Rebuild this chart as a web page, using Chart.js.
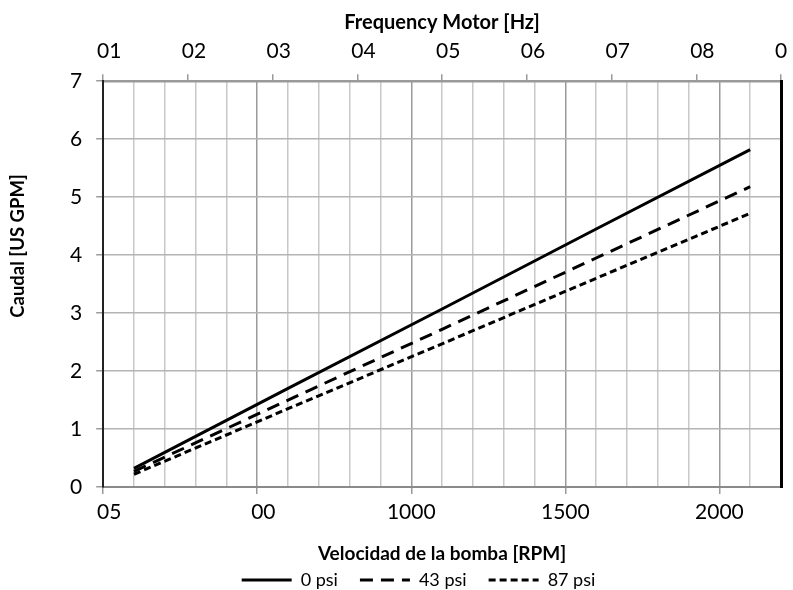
<!DOCTYPE html>
<html>
<head>
<meta charset="utf-8">
<script src="https://cdn.jsdelivr.net/npm/chart.js@4.4.1/dist/chart.umd.min.js"></script>
<style>
  html, body { margin: 0; padding: 0; background: #fff; }
  #wrap { width: 793px; height: 590px; }
</style>
</head>
<body>
<div id="wrap"><canvas id="myChart" width="793" height="590"></canvas></div>
<script>
// Pump speed [RPM] where the curves were read
const rpm = [100, 600, 1100, 1600, 2100];

// Flow [US GPM] for each outlet pressure
const flow0psi = [0.32, 1.70, 3.07, 4.45, 5.82];
const flow43psi = [0.27, 1.50, 2.72, 3.95, 5.18];
const flow87psi = [0.22, 1.35, 2.47, 3.60, 4.72];

// Tick labels as printed on the original
const rpmTickValues = [0, 500, 1000, 1500, 2000];
const rpmTickLabels = ['05', '00', '1000', '1500', '2000'];
const hzTickLabels = ['01', '02', '03', '04', '05', '06', '07', '08', '0'];

const FONT = 'Lato, "Open Sans", sans-serif';

function toPoints(ys) {
    return rpm.map((x, i) => ({ x: x, y: ys[i] }));
}

// y axis title sits a bit above the centre of the plot in the original
const yTitlePlugin = {
    id: 'yTitle',
    afterDraw(chart) {
        const ctx = chart.ctx;
        ctx.save();
        ctx.translate(18, 246);
        ctx.rotate(-Math.PI / 2);
        ctx.font = 'bold 18.5px ' + FONT;
        ctx.fillStyle = '#000';
        ctx.textAlign = 'center';
        ctx.textBaseline = 'middle';
        ctx.fillText('Caudal [US GPM]', 0, 0);
        ctx.restore();
    }
};

// let the last top label hang over the right edge like the original
function noRightPad(scale) {
    scale.paddingRight = 0;
}

const ctx = document.getElementById('myChart').getContext('2d');
new Chart(ctx, {
    type: 'line',
    data: {
        datasets: [
            { label: '0 psi', data: toPoints(flow0psi), borderColor: '#000', borderWidth: 3, pointRadius: 0, borderDash: [] },
            { label: '43 psi', data: toPoints(flow43psi), borderColor: '#000', borderWidth: 3, pointRadius: 0, borderDash: [13, 8] },
            { label: '87 psi', data: toPoints(flow87psi), borderColor: '#000', borderWidth: 3, pointRadius: 0, borderDash: [7, 4] }
        ]
    },
    options: {
        responsive: false,
        animation: false,
        layout: { padding: { left: 56, right: 12, top: 4, bottom: -9 } },
        scales: {
            x: {
                type: 'linear',
                position: 'bottom',
                min: 0,
                max: 2200,
                afterFit: noRightPad,
                ticks: {
                    stepSize: 100,
                    autoSkip: false,
                    maxRotation: 0,
                    padding: 6,
                    color: '#000',
                    font: { family: FONT, size: 21 },
                    callback: function (value) {
                        const i = rpmTickValues.indexOf(value);
                        if (i < 0) return '';
                        const s = rpmTickLabels[i];
                        return s.length === 2 ? '\u2007' + s : s;
                    }
                },
                grid: {
                    color: c => (c.tick && c.tick.value % 500 === 0) ? '#9a9a9a' : '#c8c8c8',
                    lineWidth: 1.5,
                    tickLength: 7,
                    tickColor: c => (c.tick && c.tick.value % 500 === 0) ? '#9a9a9a' : 'rgba(0,0,0,0)'
                },
                border: { color: '#8a8a8a', width: 2 },
                title: {
                    display: true,
                    text: 'Velocidad de la bomba [RPM]',
                    color: '#000',
                    font: { family: FONT, size: 19, weight: 'bold' },
                    padding: { top: 11, bottom: -16 }
                }
            },
            x2: {
                type: 'linear',
                position: 'top',
                min: 10,
                max: 90,
                afterFit: noRightPad,
                ticks: {
                    stepSize: 10,
                    maxRotation: 0,
                    padding: 10,
                    color: '#000',
                    font: { family: FONT, size: 21 },
                    callback: function (value) {
                        const s = hzTickLabels[Math.round((value - 10) / 10)];
                        return s.length === 2 ? '\u2007' + s : s;
                    }
                },
                grid: { drawOnChartArea: false, tickLength: 7, tickColor: '#9a9a9a', lineWidth: 1.5 },
                border: { color: '#9a9a9a', width: 2.5 },
                title: {
                    display: true,
                    text: 'Frequency Motor [Hz]',
                    color: '#000',
                    font: { family: FONT, size: 20, weight: 'bold' },
                    padding: { top: 7, bottom: -6 }
                }
            },
            y: {
                min: 0,
                max: 7,
                ticks: {
                    stepSize: 1,
                    padding: 14,
                    color: '#000',
                    font: { family: FONT, size: 21 }
                },
                grid: { color: '#b4b4b4', lineWidth: 1.5, tickLength: 7, tickColor: '#9a9a9a' },
                border: { color: '#222', width: 2 }
            },
            yR: {
                position: 'right',
                min: 0,
                max: 7,
                ticks: { display: false },
                grid: { drawOnChartArea: false, drawTicks: false },
                border: { color: '#000', width: 3 }
            }
        },
        plugins: {
            legend: {
                display: true,
                position: 'bottom',
                labels: {
                    usePointStyle: true,
                    pointStyle: 'line',
                    pointStyleWidth: 50,
                    padding: 22,
                    color: '#000',
                    font: { family: FONT, size: 18 },
                    // take the dash pattern from the dataset line, not the point
                    generateLabels: function (chart) {
                        const items = Chart.defaults.plugins.legend.labels.generateLabels(chart);
                        items.forEach(item => {
                            const ds = chart.data.datasets[item.datasetIndex];
                            item.lineDash = ds.borderDash;
                            item.lineWidth = ds.borderWidth;
                            item.strokeStyle = ds.borderColor;
                        });
                        return items;
                    }
                }
            },
            tooltip: { enabled: false }
        }
    },
    plugins: [yTitlePlugin]
});
</script>
</body>
</html>
